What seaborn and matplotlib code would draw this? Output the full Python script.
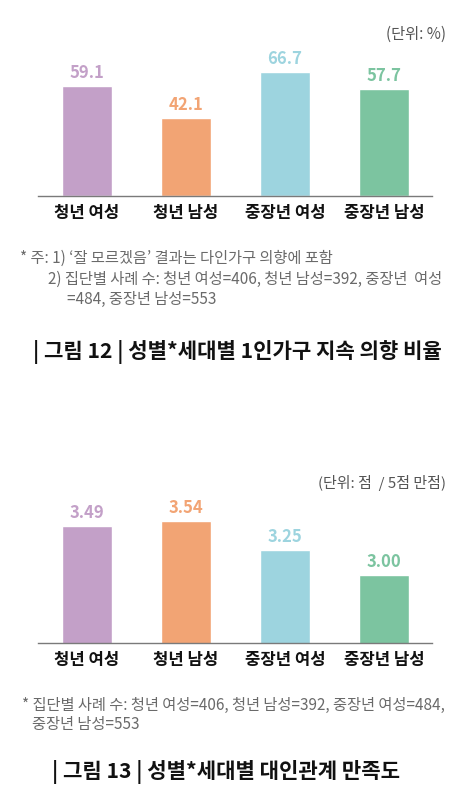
import seaborn as sns
import matplotlib.pyplot as plt
import pandas as pd

groups = ["청년 여성", "청년 남성", "중장년 여성", "중장년 남성"]
colors = ["#C3A0C8", "#F2A474", "#9DD4DF", "#7CC4A0"]
keep_ratio = [59.1, 42.1, 66.7, 57.7]
relation_score = [3.49, 3.54, 3.25, 3.00]
labels_12 = ["59.1", "42.1", "66.7", "57.7"]
labels_13 = ["3.49", "3.54", "3.25", "3.00"]

sns.set_theme(style="white")
plt.rcParams["font.family"] = ["Noto Sans CJK KR", "DejaVu Sans"]

W, H = 474, 789
fig = plt.figure(figsize=(W / 100, H / 100), dpi=100)


def px_axes(left, top, right, bottom):
    return fig.add_axes([left / W, 1 - bottom / H, (right - left) / W, (bottom - top) / H])


def bar_chart(ax, values, texts, ylim):
    df = pd.DataFrame({"group": groups, "value": values})
    sns.barplot(data=df, x="group", y="value", hue="group", palette=colors,
                width=0.5, legend=False, ax=ax, saturation=1)
    ax.set_xlim(-0.495, 3.485)
    ax.set_ylim(*ylim)
    for i, (v, t) in enumerate(zip(values, texts)):
        ax.annotate(t, (i, v), xytext=(0, 9.5), textcoords="offset points",
                    ha="center", va="center", fontsize=12, fontweight="bold",
                    color=colors[i])
    ax.set_xlabel("")
    ax.set_ylabel("")
    ax.set_yticks([])
    for s in ["top", "left", "right"]:
        ax.spines[s].set_visible(False)
    ax.spines["bottom"].set_color("#7a7a7a")
    ax.spines["bottom"].set_linewidth(1.0)
    ax.tick_params(axis="x", length=0, pad=6, labelsize=12, labelcolor="#111111")
    for lab in ax.get_xticklabels():
        lab.set_fontweight("bold")


# chart 12
ax1 = px_axes(38, 40, 432, 196)
bar_chart(ax1, keep_ratio, labels_12, (0, 84))
fig.text(446 / W, 1 - 34 / H, "(단위: %)", ha="right", va="center",
         fontsize=11, color="#555555")

note_c = "#6a6a6a"
note_fs = 11
fig.text(20 / W, 1 - 258 / H, "* 주: 1) ‘잘 모르겠음’ 결과는 다인가구 의향에 포함",
         fontsize=note_fs, color=note_c, va="center")
fig.text(48 / W, 1 - 279 / H, "2) 집단별 사례 수: 청년 여성=406, 청년 남성=392, 중장년  여성",
         fontsize=note_fs, color=note_c, va="center")
fig.text(67 / W, 1 - 299 / H, "=484, 중장년 남성=553",
         fontsize=note_fs, color=note_c, va="center")
fig.text(33 / W, 1 - 352 / H, "| 그림 12 | 성별*세대별 1인가구 지속 의향 비율",
         fontsize=15.2, fontweight="bold", color="#111111", va="center")

# chart 13
ax2 = px_axes(38, 480, 432, 643)
bar_chart(ax2, relation_score, labels_13, (2.325, 3.947))
fig.text(446 / W, 1 - 483 / H, "(단위: 점  / 5점 만점)", ha="right", va="center",
         fontsize=10.8, color="#555555")
fig.text(22 / W, 1 - 705 / H, "* 집단별 사례 수: 청년 여성=406, 청년 남성=392, 중장년 여성=484,",
         fontsize=note_fs, color=note_c, va="center")
fig.text(32 / W, 1 - 725 / H, "중장년 남성=553",
         fontsize=note_fs, color=note_c, va="center")
fig.text(52 / W, 1 - 772 / H, "| 그림 13 | 성별*세대별 대인관계 만족도",
         fontsize=15.2, fontweight="bold", color="#111111", va="center")

fig.savefig("out.png", dpi=100, facecolor="white")
